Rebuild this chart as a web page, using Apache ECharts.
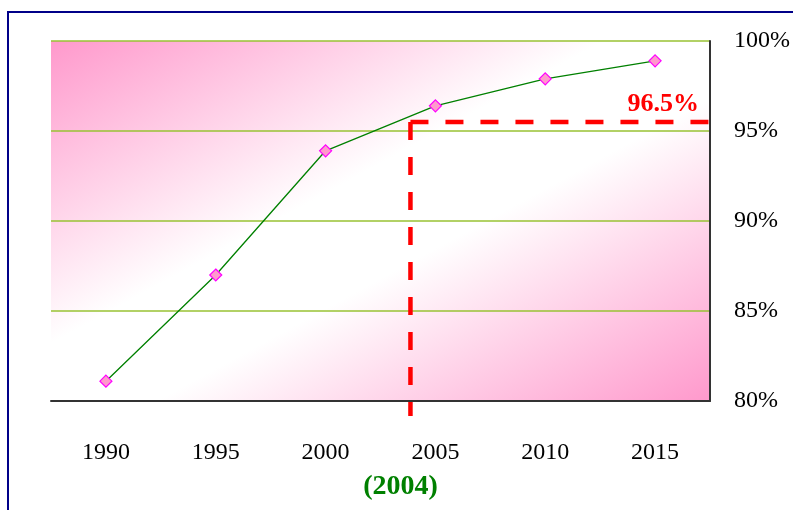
<!DOCTYPE html>
<html>
<head>
<meta charset="utf-8">
<script src="https://cdn.jsdelivr.net/npm/echarts@6/dist/echarts.min.js"></script>
<style>
html,body{margin:0;padding:0;background:#fff;}
#chart{width:793px;height:510px;}
</style>
</head>
<body>
<div id="chart"></div>
<script>
var years = ['1990', '1995', '2000', '2005', '2010', '2015'];
var rates = [81.1, 87.0, 93.9, 96.4, 97.9, 98.9];
var yTicks = [80, 85, 90, 95, 100];
var refYear = 2004;
var refValue = 95.5;
var refLabel = '96.5%';
var refYearLabel = '(2004)';

var FONT = '"Liberation Serif", "Times New Roman", serif';
var chart = echarts.init(document.getElementById('chart'));
var option = {
  backgroundColor: '#ffffff',
  animation: false,
  grid: {
    left: 51, top: 41, right: 82, bottom: 109,
    show: true,
    borderWidth: 0,
    backgroundColor: {
      type: 'linear', x: 0.27, y: -0.27, x2: 0.73, y2: 1.27,
      colorStops: [
        {offset: 0, color: '#ff99cc'},
        {offset: 0.42, color: '#ffffff'},
        {offset: 0.58, color: '#ffffff'},
        {offset: 1, color: '#ff99cc'}
      ]
    }
  },
  xAxis: {
    type: 'category',
    data: years,
    boundaryGap: true,
    axisLine: {show: true, lineStyle: {color: '#333333', width: 2}},
    axisTick: {show: false},
    axisLabel: {color: '#000', fontFamily: FONT, fontSize: 24, margin: 40}
  },
  yAxis: {
    type: 'value',
    position: 'right',
    min: yTicks[0], max: yTicks[yTicks.length - 1], interval: 5,
    axisLine: {show: true, lineStyle: {color: '#333333', width: 2}},
    axisTick: {show: false},
    splitLine: {show: true, lineStyle: {color: '#99c233', width: 1.5}},
    axisLabel: {color: '#000', fontFamily: FONT, fontSize: 24, margin: 24, formatter: '{value}%'}
  },
  series: [{
    type: 'line',
    data: rates,
    symbol: 'diamond',
    symbolSize: 12,
    lineStyle: {color: '#008000', width: 1.3},
    itemStyle: {color: '#ff99cc', borderColor: '#ff00ff', borderWidth: 1.2}
  }]
};
chart.setOption(option);

// reference guide lines
var p2000 = chart.convertToPixel({xAxisIndex: 0}, '2000');
var p2005 = chart.convertToPixel({xAxisIndex: 0}, '2005');
var xRef = p2000 + (p2005 - p2000) * (refYear - 2000) / 5;
var yRef = chart.convertToPixel({yAxisIndex: 0}, refValue);
var yBottom = chart.convertToPixel({yAxisIndex: 0}, yTicks[0]);
var xRight = chart.getWidth() - 82 - 2;
var dash = {stroke: '#ff0000', lineWidth: 4.5, lineDash: [18, 17]};
chart.setOption({
  graphic: [
    {type: 'rect', shape: {x: 8, y: 12, width: 820, height: 540}, style: {fill: null, stroke: '#000088', lineWidth: 2}, z: 100},
    {type: 'line', shape: {x1: xRef - 3, y1: yRef, x2: xRight, y2: yRef}, style: dash, z: 50},
    {type: 'line', shape: {x1: xRef - 3, y1: yRef, x2: xRef - 3, y2: yBottom + 15}, style: dash, z: 50},
    {type: 'text', x: xRight - 10, y: yRef - 18, style: {text: refLabel, fill: '#ff0000', font: 'bold 26px ' + FONT, textAlign: 'right', textVerticalAlign: 'middle'}, z: 60},
    {type: 'text', x: xRef - 13, y: 487, style: {text: refYearLabel, fill: '#008000', font: 'bold 28px ' + FONT, textAlign: 'center', textVerticalAlign: 'middle'}, z: 60}
  ]
});
</script>
</body>
</html>
